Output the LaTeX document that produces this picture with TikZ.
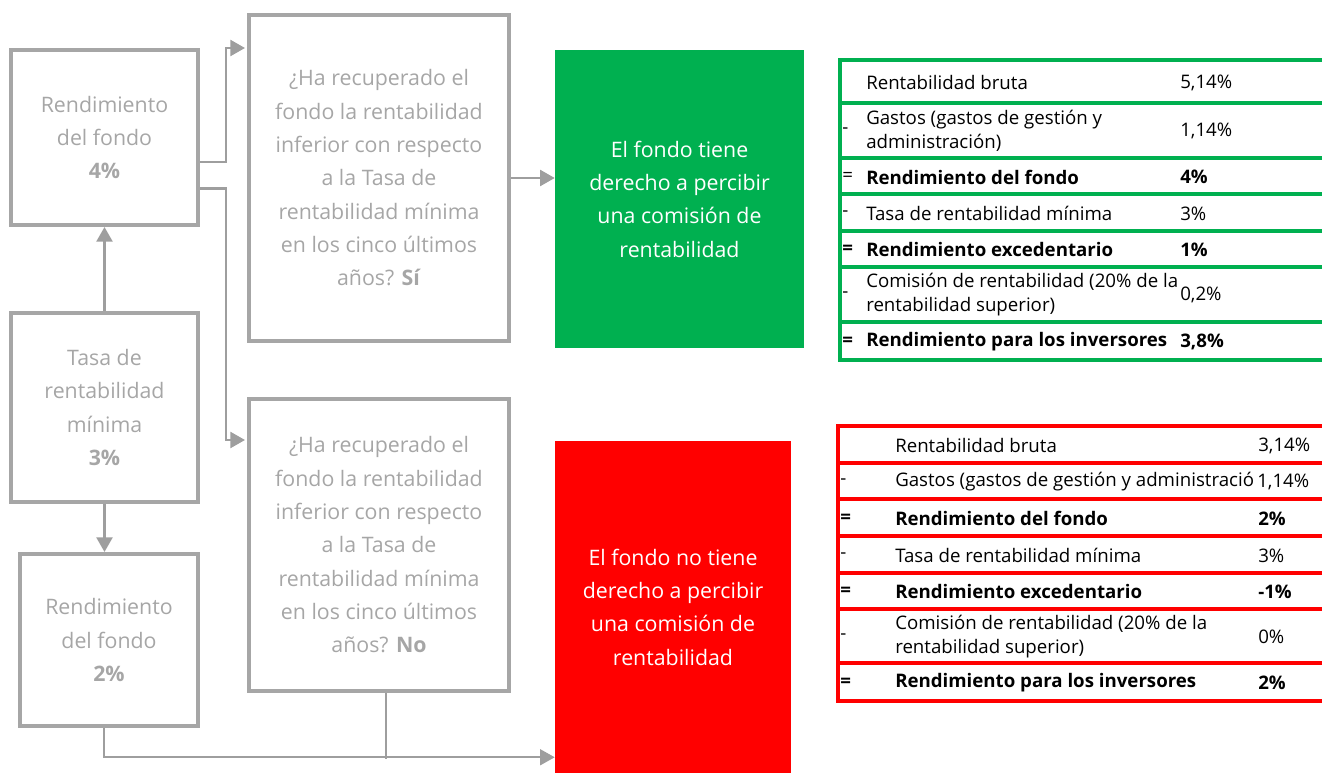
\documentclass[tikz,border=0pt]{standalone}
\usepackage{fontspec}
\setmainfont{Open Sans}
\usetikzlibrary{arrows.meta,calc}

\definecolor{boxgray}{RGB}{166,166,166}
\definecolor{linegray}{RGB}{158,158,158}
\definecolor{fondogreen}{RGB}{0,176,80}
\definecolor{fondored}{RGB}{255,0,0}

\tikzset{
  flowbox/.style={draw=boxgray, line width=3pt, align=center, text=boxgray, inner sep=0pt, font=\fontsize{16}{25}\selectfont},
  resultbox/.style={align=center, text=white, inner sep=0pt, font=\fontsize{16}{25}\selectfont},
  conn/.style={draw=linegray, line width=1.8pt, -{Triangle[length=11pt,width=12pt]}},
  bottomconn/.style={conn, line width=1.2pt},
  connthin/.style={draw=linegray, line width=1.2pt},
  gline/.style={draw=fondogreen, line width=2.6pt},
  rline/.style={draw=fondored, line width=2.6pt},
  cell/.style={anchor=west, inner sep=0pt, align=left, font=\fontsize{14}{18}\selectfont},
  sign/.style={anchor=west, inner sep=0pt, font=\fontsize{14}{18}\selectfont}
}

\begin{document}
\begin{tikzpicture}[x=0.75pt,y=0.75pt,yscale=-1,xscale=1]
\useasboundingbox (0,0) rectangle (1322,773);

% left column
\node[flowbox, minimum width=140.25pt, minimum height=131.25pt] (fondoA) at (104.5,137.5) {Rendimiento\\del fondo\\\textbf{4\%}};
\node[flowbox, minimum width=140.25pt, minimum height=141.75pt] (tasa) at (104.5,407.5) {Tasa de\\rentabilidad\\mínima\\\textbf{3\%}};
\node[flowbox, minimum width=133.5pt, minimum height=129pt] (fondoB) at (109,640) {Rendimiento\\del fondo\\\textbf{2\%}};

% questions
\node[flowbox, minimum width=195pt, minimum height=244.5pt] (preguntaA) at (379,178) {¿Ha recuperado el\\fondo la rentabilidad\\inferior con respecto\\a la Tasa de\\rentabilidad mínima\\en los cinco últimos\\años? \textbf{Sí}};
\node[flowbox, minimum width=195pt, minimum height=219pt] (preguntaB) at (379,545) {¿Ha recuperado el\\fondo la rentabilidad\\inferior con respecto\\a la Tasa de\\rentabilidad mínima\\en los cinco últimos\\años? \textbf{No}};

% results
\node[resultbox, fill=fondogreen, minimum width=186.75pt, minimum height=223.5pt] (conComision) at (679.5,199) {El fondo tiene\\derecho a percibir\\una comisión de\\rentabilidad};
\node[resultbox, fill=fondored, minimum width=177pt, minimum height=249pt] (sinComision) at (673,607) {El fondo no tiene\\derecho a percibir\\una comisión de\\rentabilidad};

% connectors
\draw[conn] (tasa.north) -- (fondoA.south);
\draw[conn] (tasa.south) -- (tasa.south |- fondoB.north);
\draw[conn] ($(fondoA.east)+(0,24.5)$) -- ++(26,0) |- ($(preguntaA.north west)+(-2,35)$);
\draw[conn] ($(fondoA.east)+(0,51)$) -- ++(26,0) |- ($(preguntaB.north west)+(-2,43)$);
\draw[conn] (preguntaA.east) -- (conComision.west |- preguntaA.east);
\draw[bottomconn] ($(fondoB.south)+(-5,0)$) |- ($(sinComision.south west)+(0,-16)$);
\draw[connthin] ($(preguntaB.south)+(7,0)$) -- ++(0,66);

% green table
\draw[gline] (1322,60) -- (840,60) -- (840,360) -- (1322,360);
\draw[gline] (840,103) -- (1322,103) (840,158) -- (1322,158) (840,194) -- (1322,194)
  (840,231) -- (1322,231) (840,267) -- (1322,267) (840,322) -- (1322,322);
\node[cell] (gl1) at (866,82.5) {Rentabilidad bruta};
\node[cell] (gv1) at (1180,82.5) {5,14\%};
\node[sign] (gs2) at (842,131) {-};
\node[cell] (gl2) at (866,131) {Gastos (gastos de gestión y\\administración)};
\node[cell] (gv2) at (1180,131) {1,14\%};
\node[sign] (gs3) at (842,177) {=};
\node[cell] (gl3) at (866,177) {\textbf{Rendimiento del fondo}};
\node[cell] (gv3) at (1180,177) {\textbf{4\%}};
\node[sign] (gs4) at (842,213.5) {-};
\node[cell] (gl4) at (866,213.5) {Tasa de rentabilidad mínima};
\node[cell] (gv4) at (1180,213.5) {3\%};
\node[sign] (gs5) at (842,250) {\textbf{=}};
\node[cell] (gl5) at (866,250) {\textbf{Rendimiento excedentario}};
\node[cell] (gv5) at (1180,250) {\textbf{1\%}};
\node[sign] (gs6) at (842,295) {-};
\node[cell] (gl6) at (866,295) {Comisión de rentabilidad (20\% de la\\rentabilidad superior)};
\node[cell] (gv6) at (1180,295) {0,2\%};
\node[sign] (gs7) at (842,342) {\textbf{=}};
\node[cell] (gl7) at (866,342) {\textbf{Rendimiento para los inversores}};
\node[cell] (gv7) at (1180,342) {\textbf{3,8\%}};

% red table
\draw[rline] (1322,426) -- (838,426) -- (838,701) -- (1322,701);
\draw[rline] (838,463) -- (1322,463) (838,499) -- (1322,499) (838,536) -- (1322,536)
  (838,573) -- (1322,573) (838,609) -- (1322,609) (838,663) -- (1322,663);
\node[cell] (rl1) at (895,445.5) {Rentabilidad bruta};
\node[cell] (rv1) at (1258,445.5) {3,14\%};
\node[sign] (rs2) at (840,482) {-};
\node[cell] (rl2) at (895,482) {Gastos (gastos de gestión y administració};
\node[cell] (rv2) at (1257,482) {1,14\%};
\node[sign] (rs3) at (840,518.5) {\textbf{=}};
\node[cell] (rl3) at (895,518.5) {\textbf{Rendimiento del fondo}};
\node[cell] (rv3) at (1258,518.5) {\textbf{2\%}};
\node[sign] (rs4) at (840,555.5) {-};
\node[cell] (rl4) at (895,555.5) {Tasa de rentabilidad mínima};
\node[cell] (rv4) at (1258,555.5) {3\%};
\node[sign] (rs5) at (840,592) {\textbf{=}};
\node[cell] (rl5) at (895,592) {\textbf{Rendimiento excedentario}};
\node[cell] (rv5) at (1258,592) {\textbf{-1\%}};
\node[sign] (rs6) at (840,637) {-};
\node[cell] (rl6) at (895,637) {Comisión de rentabilidad (20\% de la\\rentabilidad superior)};
\node[cell] (rv6) at (1258,637) {0\%};
\node[sign] (rs7) at (840,683) {\textbf{=}};
\node[cell] (rl7) at (895,683) {\textbf{Rendimiento para los inversores}};
\node[cell] (rv7) at (1258,683) {\textbf{2\%}};
\end{tikzpicture}
\end{document}
